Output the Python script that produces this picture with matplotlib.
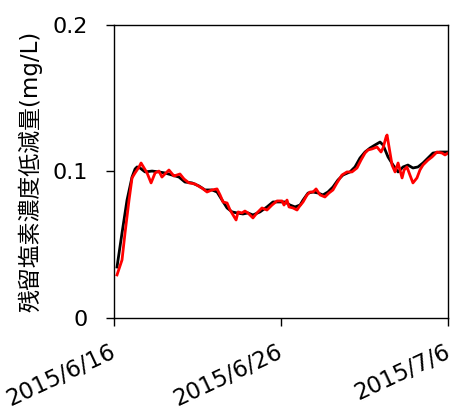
import numpy as np
import pandas as pd
import matplotlib
matplotlib.use("Agg")
import matplotlib.pyplot as plt
import matplotlib.transforms as mtransforms

plt.rcParams["font.family"] = ["DejaVu Sans", "Noto Sans CJK JP"]

START = pd.Timestamp("2015-06-16")
END = pd.Timestamp("2015-07-06")
TICK_DATES = ["2015-06-16", "2015-06-26", "2015-07-06"]
TICK_LABELS = ["2015/6/16", "2015/6/26", "2015/7/6"]
Y_TICKS = [0, 0.1, 0.2]
Y_LABELS = ["0", "0.1", "0.2"]

# measured series (days since 6/16, mg/L)
black_days = [0.18, 0.48, 0.78, 1.08, 1.26, 1.38, 1.56, 1.86, 2.28, 2.69, 3.05,
              3.47, 3.89, 4.25, 4.67, 5.09, 5.45, 5.87, 6.17, 6.47, 6.77, 7.07,
              7.37, 7.72, 8.02, 8.32, 8.74, 9.16, 9.52, 9.94, 10.24, 10.54,
              10.84, 11.14, 11.32, 11.62, 11.92, 12.22, 12.51, 12.81, 13.11,
              13.41, 13.71, 14.13, 14.43, 14.73, 15.03, 15.33, 15.63, 15.93,
              16.11, 16.41, 16.71, 17.01, 17.31, 17.60, 17.90, 18.20, 18.50,
              18.80, 19.10, 19.52, 20.0]
black_vals = [0.0348, 0.058, 0.0805, 0.0962, 0.1017, 0.1031, 0.1024, 0.0997,
              0.1003, 0.0997, 0.099, 0.0976, 0.0962, 0.0928, 0.0922, 0.0901,
              0.0874, 0.0874, 0.086, 0.0805, 0.0751, 0.0724, 0.0717, 0.071,
              0.0717, 0.0703, 0.0724, 0.0758, 0.0792, 0.0792, 0.0792, 0.0771,
              0.0758, 0.0771, 0.0805, 0.0853, 0.086, 0.0853, 0.084, 0.086,
              0.0894, 0.0942, 0.0976, 0.0997, 0.1031, 0.1092, 0.1133, 0.116,
              0.1181, 0.1201, 0.1181, 0.1099, 0.1044, 0.0997, 0.1031, 0.1044,
              0.1024, 0.1031, 0.1058, 0.1092, 0.1126, 0.1133, 0.1133]

red_days = [0.18, 0.48, 0.66, 0.90, 1.08, 1.26, 1.50, 1.62, 1.80, 1.98, 2.22,
            2.46, 2.69, 2.87, 3.05, 3.29, 3.59, 3.77, 3.95, 4.19, 4.49, 4.85,
            5.15, 5.27, 5.57, 5.87, 6.17, 6.35, 6.53, 6.77, 6.95, 7.13, 7.31,
            7.43, 7.66, 7.84, 8.02, 8.32, 8.56, 8.86, 9.16, 9.46, 9.76, 10.06,
            10.18, 10.36, 10.48, 10.72, 10.96, 11.08, 11.32, 11.56, 11.74,
            11.92, 12.10, 12.34, 12.63, 12.87, 13.11, 13.35, 13.65, 13.95,
            14.25, 14.55, 14.79, 15.03, 15.21, 15.45, 15.75, 15.99, 16.11,
            16.29, 16.35, 16.47, 16.65, 16.83, 17.01, 17.25, 17.37, 17.54,
            17.72, 17.90, 18.14, 18.32, 18.50, 18.80, 19.04, 19.34, 19.64,
            19.82, 20.0]
red_vals = [0.0294, 0.0396, 0.058, 0.0805, 0.0956, 0.099, 0.1031, 0.1058,
            0.1024, 0.099, 0.0922, 0.099, 0.1003, 0.0962, 0.0983, 0.101,
            0.0969, 0.0976, 0.0983, 0.0949, 0.0922, 0.0915, 0.0894, 0.0887,
            0.086, 0.0874, 0.0881, 0.084, 0.0792, 0.0785, 0.0737, 0.0703,
            0.0669, 0.0724, 0.0717, 0.073, 0.0717, 0.0683, 0.0717, 0.0751,
            0.0737, 0.0771, 0.0799, 0.0799, 0.0771, 0.0805, 0.0758, 0.0751,
            0.0737, 0.0758, 0.0792, 0.084, 0.086, 0.086, 0.0881, 0.084,
            0.0826, 0.0853, 0.0874, 0.0922, 0.0976, 0.0997, 0.0997, 0.1024,
            0.1078, 0.1126, 0.1147, 0.1154, 0.1167, 0.1133, 0.116, 0.1235,
            0.1249, 0.1167, 0.1044, 0.0997, 0.1058, 0.0956, 0.101, 0.1031,
            0.0976, 0.0922, 0.0956, 0.101, 0.1044, 0.1078, 0.1099, 0.1133,
            0.1126, 0.1113, 0.1126]


def to_dates(days):
    return START + pd.to_timedelta(np.asarray(days), unit="D")


fig = plt.figure(figsize=(4.54, 4.12), dpi=100)
ax = fig.add_axes([0.2511, 0.2282, 0.7357, 0.7111])

ax.plot(to_dates(black_days), black_vals, color="black", lw=2)
ax.plot(to_dates(red_days), red_vals, color="#ff0000", lw=2)

ax.set_xlim(START, END)
ax.set_ylim(0, 0.2)
ax.set_xticks(pd.to_datetime(TICK_DATES))
ax.set_xticklabels(TICK_LABELS, rotation=25, ha="right", rotation_mode="anchor",
                   fontsize=16.5)
ax.set_yticks(Y_TICKS)
ax.set_yticklabels(Y_LABELS, fontsize=16)
ax.tick_params(axis="both", direction="out", length=6, width=1)
ax.tick_params(axis="y", pad=13)
ax.tick_params(axis="x", pad=10)
for sp in ax.spines.values():
    sp.set_linewidth(1)

# nudge the slanted date labels a little left so the last one fits
shift = mtransforms.ScaledTranslation(-3 / 72, 0, fig.dpi_scale_trans)
for lbl in ax.get_xticklabels():
    lbl.set_transform(lbl.get_transform() + shift)

ax.set_ylabel("残留塩素濃度低減量(mg/L)", fontsize=16.5, labelpad=7)

fig.savefig("out.png", dpi=100)
